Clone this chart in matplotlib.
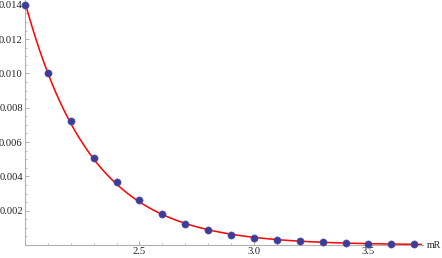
import numpy as np
import matplotlib
matplotlib.use('Agg')
import matplotlib.pyplot as plt
from matplotlib.ticker import MultipleLocator, FixedLocator

# data
mR = [2.0, 2.1, 2.2, 2.3, 2.4, 2.5, 2.6, 2.7, 2.8, 2.9,
      3.0, 3.1, 3.2, 3.3, 3.4, 3.5, 3.6, 3.7]
value = [0.0140, 0.0100, 0.0072, 0.0051, 0.00365, 0.0026, 0.00180, 0.00124,
         0.00086, 0.00060, 0.00043, 0.00031, 0.00022, 0.00016, 0.00011,
         0.000080, 0.000057, 0.000041]
xticks = [2.5, 3.0, 3.5]
yticks = [0.002, 0.004, 0.006, 0.008, 0.010, 0.012, 0.014]

plt.rcParams['font.family'] = ['Liberation Serif', 'DejaVu Serif']

fig = plt.figure(figsize=(4.42, 2.58), dpi=100)
ax = fig.add_axes([25 / 442., 13 / 258., 397.5 / 442., 245 / 258.])

# exponential fit for the red curve
k, c = np.polyfit(mR, np.log(value), 1)
xs = np.linspace(1.995, 3.73, 300)
ax.plot(xs, np.exp(c + k * xs), color='#ff0000', lw=1.1, zorder=2)
ax.plot(mR, value, 'o', color='#3d3d99', ms=5.2, mec='#5555aa', mew=0.4,
        zorder=3, clip_on=False)

ax.set_xlim(2.0, 3.736)
ax.set_ylim(0, 0.01428)

for s in ['top', 'right']:
    ax.spines[s].set_visible(False)
for s in ['left', 'bottom']:
    ax.spines[s].set_color('#b0b0b0')
    ax.spines[s].set_linewidth(0.8)

ax.xaxis.set_major_locator(FixedLocator(xticks))
ax.xaxis.set_minor_locator(MultipleLocator(0.1))
ax.yaxis.set_major_locator(FixedLocator(yticks))
ax.yaxis.set_minor_locator(MultipleLocator(0.0005))
ax.set_xticklabels(['%.1f' % t for t in xticks])
ax.set_yticklabels(['%.3f' % t for t in yticks])

ax.tick_params(which='both', direction='in', color='#b0b0b0', labelsize=7.6,
               labelcolor='#222222')
ax.tick_params(which='major', length=3, width=0.7)
ax.tick_params(which='minor', length=1.6, width=0.6)
ax.tick_params(axis='x', pad=1.2)
ax.tick_params(axis='y', pad=1.6)

ax.annotate('mR', xy=(1, 0), xycoords='axes fraction', xytext=(3.2, 0),
            textcoords='offset points', ha='left', va='center',
            fontsize=7.2, color='#222222')

fig.savefig('out.png', dpi=100)
